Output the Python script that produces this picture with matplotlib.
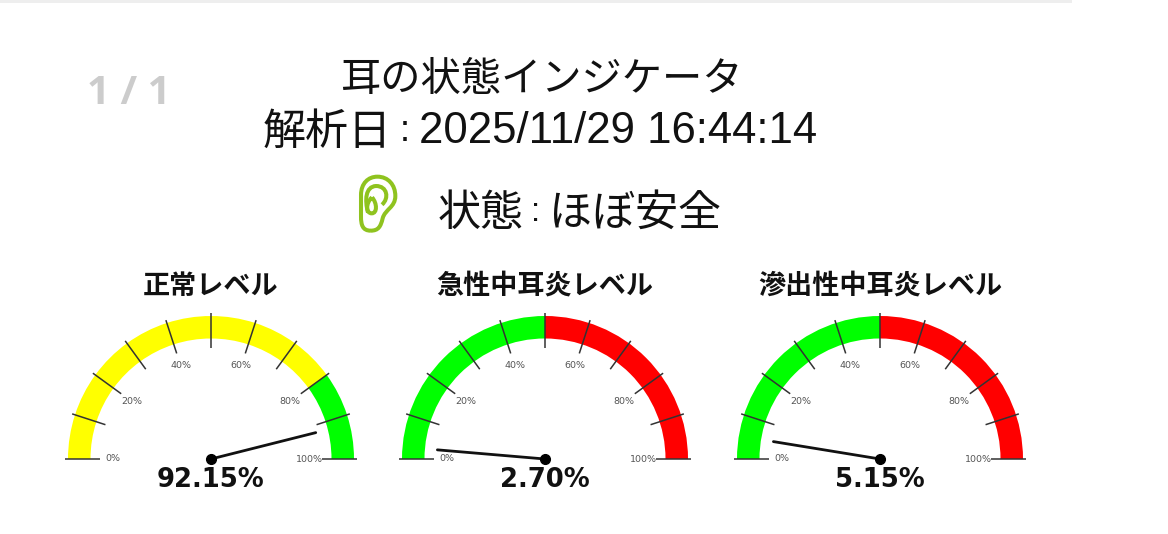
import numpy as np
import matplotlib
matplotlib.use("Agg")
import matplotlib.pyplot as plt
from matplotlib.patches import Wedge, Rectangle, PathPatch
from matplotlib.path import Path

plt.rcParams['font.family'] = ['Noto Sans CJK JP', 'DejaVu Sans']

title_text = "耳の状態インジケータ"
date_label = "解析日"
date_value = "2025/11/29 16:44:14"
state_label = "状態"
state_value = "ほぼ安全"
page_text = "1 / 1"

gauge_titles = ["正常レベル", "急性中耳炎レベル", "滲出性中耳炎レベル"]
gauge_values = [92.15, 2.70, 5.15]
# (start %, end %, colour) of the coloured arc
gauge_bands = [
    [(0, 80, "#ffff00"), (80, 100, "#00ff00")],
    [(0, 50, "#00ff00"), (50, 100, "#ff0000")],
    [(0, 50, "#00ff00"), (50, 100, "#ff0000")],
]
tick_percents = [0, 10, 20, 30, 40, 50, 60, 70, 80, 90, 100]
label_percents = [0, 20, 40, 60, 80, 100]
gauge_centers = [211, 545, 880]

W, H = 1168, 534
CENTER_Y = 459
R_OUT, R_IN = 143, 120.5


def pct_to_xy(pct, r):
    ang = np.deg2rad(180 * (1 - pct / 100))
    return r * np.cos(ang), r * np.sin(ang)


def draw_gauge(cx, title, value, bands):
    ax = fig.add_axes([(cx - 160) / W, 1 - (CENTER_Y + 40) / H, 320 / W, 240 / H])
    ax.set_xlim(-160, 160)
    ax.set_ylim(-40, 200)
    ax.axis("off")

    for start, end, color in bands:
        ax.add_patch(Wedge((0, 0), R_OUT, 180 * (1 - end / 100), 180 * (1 - start / 100),
                           width=R_OUT - R_IN, facecolor=color, edgecolor="none"))
    for pct in tick_percents:
        x0, y0 = pct_to_xy(pct, 111)
        x1, y1 = pct_to_xy(pct, 146)
        ax.plot([x0, x1], [y0, y1], color="#333333", lw=1.1, solid_capstyle="butt")
    for pct in label_percents:
        x, y = pct_to_xy(pct, 98)
        ax.text(x, y, f"{pct}%", ha="center", va="center", fontsize=6.8,
                color="#555555", family="DejaVu Sans")

    # needle
    x, y = pct_to_xy(value, 108)
    ax.plot([0, x], [0, y], color="#111111", lw=2.0, solid_capstyle="round")
    ax.plot([0], [0], "o", color="black", ms=7)

    ax.text(0, -21, f"{value:.2f}%", ha="center", va="center", fontsize=18.6,
            fontweight="bold", color="#111111", family="DejaVu Sans")
    ax.text(0, 173, title, ha="center", va="center", fontsize=19.5,
            fontweight="bold", color="#111111")


def draw_ear():
    # icon box in pixels of the zoomed crop, 3x
    ax = fig.add_axes([340 / W, 1 - 250 / H, 120 / W, 80 / H])
    ax.set_xlim(0, 360)
    ax.set_ylim(240, 0)
    ax.axis("off")
    outer = Path(
        [(92, 182), (68, 182), (63, 165), (63, 140),
         (63, 110), (63, 95), (63, 75),
         (63, 40), (85, 20), (112, 20),
         (145, 20), (166, 45), (166, 78),
         (166, 112), (135, 118), (128, 145),
         (122, 170), (115, 182), (92, 182)],
        [Path.MOVETO] + [Path.CURVE4] * 18,
    )
    inner = Path(
        [(84, 128), (74, 90), (76, 50), (108, 48), (142, 48), (148, 85), (126, 104)],
        [Path.MOVETO] + [Path.CURVE4] * 6,
    )
    loop = Path(
        [(96, 82), (76, 100), (78, 130), (95, 130), (112, 130), (112, 100), (96, 82)],
        [Path.MOVETO] + [Path.CURVE4] * 6,
    )
    for p in (outer, inner, loop):
        ax.add_patch(PathPatch(p, facecolor="none", edgecolor="#8fc31f", lw=2.9))


fig = plt.figure(figsize=(W / 100, H / 100), dpi=100, facecolor="white")

# light strip along the top edge
fig.add_artist(Rectangle((0, 1 - 3 / H), 1072 / W, 3 / H, transform=fig.transFigure,
                         facecolor="#eeeeee", edgecolor="none"))

fig.text(541 / W, 1 - 79 / H, title_text, ha="center", va="center", fontsize=29, color="#111111")

fig.text(263 / W, 1 - 133 / H, date_label, ha="left", va="center", fontsize=31, color="#111111")
fig.text(405 / W, 1 - 132 / H, ":", ha="center", va="center", fontsize=26,
         color="#111111", family="Liberation Sans")
fig.text(419 / W, 1 - 132 / H, date_value, ha="left", va="center", fontsize=31.5,
         color="#111111", family="Liberation Sans")

fig.text(438 / W, 1 - 214 / H, state_label, ha="left", va="center", fontsize=31, color="#111111")
fig.text(536 / W, 1 - 212 / H, ":", ha="center", va="center", fontsize=24,
         color="#111111", family="Liberation Sans")
fig.text(549 / W, 1 - 214 / H, state_value, ha="left", va="center", fontsize=31, color="#111111")

fig.text(129 / W, 1 - 93 / H, page_text, ha="center", va="center", fontsize=29,
         fontweight="bold", color="#cccccc", family="Open Sans")

draw_ear()
for cx, title, value, bands in zip(gauge_centers, gauge_titles, gauge_values, gauge_bands):
    draw_gauge(cx, title, value, bands)

fig.savefig("out.png", dpi=100, facecolor="white")
